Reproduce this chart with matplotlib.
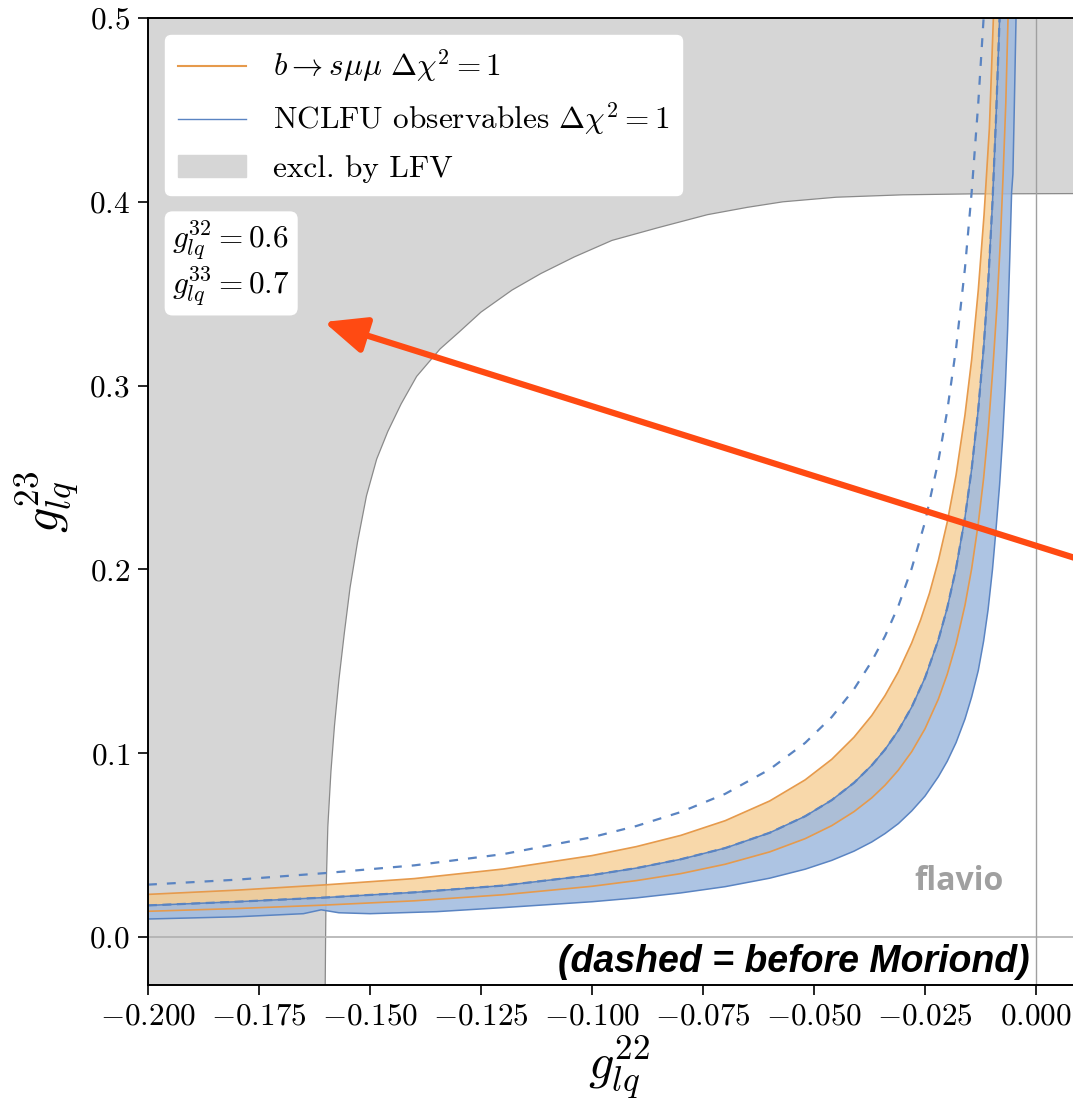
import numpy as np
import matplotlib
matplotlib.use("Agg")
import matplotlib.pyplot as plt

plt.rcParams["font.family"] = ["cmr10", "DejaVu Sans"]
plt.rcParams["mathtext.fontset"] = "cm"
plt.rcParams["axes.formatter.use_mathtext"] = True

# b -> s mu mu, Delta chi^2 = 1 contour (upper / lower edge)
bsmm_up_x = [-0.200, -0.180, -0.160, -0.140, -0.120, -0.100, -0.090, -0.080, -0.070, -0.060,
             -0.052, -0.046, -0.041, -0.037, -0.034, -0.031, -0.028, -0.026, -0.024, -0.022,
             -0.020, -0.018, -0.016, -0.0145, -0.0130, -0.0117, -0.0105, -0.0096]
bsmm_up_y = [0.0232, 0.0255, 0.0284, 0.0318, 0.0370, 0.0443, 0.0492, 0.0553, 0.0633, 0.0740,
             0.0855, 0.0967, 0.1087, 0.1205, 0.1314, 0.1443, 0.1600, 0.1725, 0.1870, 0.2047,
             0.2256, 0.2514, 0.2840, 0.3140, 0.3520, 0.3930, 0.4400, 0.5000]
bsmm_lo_x = [-0.200, -0.180, -0.160, -0.140, -0.120, -0.100, -0.090, -0.080, -0.070, -0.060,
             -0.052, -0.046, -0.041, -0.037, -0.034, -0.031, -0.028, -0.025, -0.022, -0.020,
             -0.018, -0.016, -0.0145, -0.0130, -0.0118, -0.0107, -0.0097, -0.0088, -0.0080,
             -0.0074, -0.0068, -0.0063]
bsmm_lo_y = [0.0140, 0.0155, 0.0174, 0.0197, 0.0230, 0.0276, 0.0307, 0.0345, 0.0396, 0.0463,
             0.0535, 0.0606, 0.0682, 0.0757, 0.0826, 0.0908, 0.1008, 0.1133, 0.1294, 0.1429,
             0.1595, 0.1805, 0.2003, 0.2250, 0.2496, 0.2776, 0.3100, 0.3430, 0.3800,
             0.4150, 0.4540, 0.5000]

# NCLFU observables, Delta chi^2 = 1 contour
nclfu_up_x = [-0.200, -0.180, -0.160, -0.140, -0.120, -0.100, -0.090, -0.080, -0.070, -0.060,
              -0.052, -0.046, -0.041, -0.037, -0.034, -0.031, -0.028, -0.025, -0.022, -0.020,
              -0.018, -0.016, -0.0145, -0.0130, -0.0118, -0.0107, -0.0098, -0.0090, -0.0082]
nclfu_up_y = [0.0172, 0.0192, 0.0215, 0.0243, 0.0280, 0.0337, 0.0375, 0.0423, 0.0484, 0.0567,
              0.0657, 0.0745, 0.0839, 0.0934, 0.1020, 0.1124, 0.1251, 0.1410, 0.1616, 0.1790,
              0.2007, 0.2282, 0.2545, 0.2873, 0.3205, 0.3590, 0.4000, 0.4460, 0.5000]
nclfu_lo_x = [-0.200, -0.180, -0.165, -0.161, -0.157, -0.150, -0.135, -0.120, -0.100, -0.090,
              -0.080, -0.070, -0.060, -0.052, -0.046, -0.041, -0.037, -0.034, -0.031, -0.028,
              -0.025, -0.022, -0.020, -0.018, -0.016, -0.0145, -0.0130, -0.0118, -0.0108,
              -0.0098, -0.0090, -0.0082, -0.0075, -0.0069, -0.0064, -0.0059, -0.0055,
              -0.0052, -0.0049, -0.0045]
nclfu_lo_y = [0.0098, 0.0110, 0.0127, 0.0148, 0.0132, 0.0127, 0.0138, 0.0160, 0.0192, 0.0213,
              0.0240, 0.0274, 0.0320, 0.0369, 0.0417, 0.0467, 0.0517, 0.0563, 0.0617, 0.0686,
              0.0767, 0.0872, 0.0956, 0.1058, 0.1186, 0.1306, 0.1450, 0.1610, 0.1780,
              0.2000, 0.2220, 0.2460, 0.2720, 0.3000, 0.3300, 0.3700, 0.4050,
              0.4150, 0.4500, 0.5000]

# NCLFU contour before Moriond (dashed)
old_x = [-0.200, -0.180, -0.160, -0.140, -0.120, -0.100, -0.090, -0.080, -0.070, -0.060,
         -0.052, -0.046, -0.041, -0.037, -0.034, -0.031, -0.028, -0.025, -0.022, -0.020,
         -0.018, -0.016, -0.0145, -0.0130, -0.0118]
old_y = [0.0285, 0.0312, 0.0348, 0.0390, 0.0451, 0.0543, 0.0604, 0.0680, 0.0779, 0.0912,
         0.1056, 0.1197, 0.1348, 0.1500, 0.1637, 0.1801, 0.2005, 0.2258, 0.2589, 0.2862,
         0.3204, 0.3639, 0.4050, 0.4539, 0.5000]

# boundary of the LFV-excluded region
lfv_x = [-0.1601, -0.1600, -0.1599, -0.1595, -0.1588, -0.1580, -0.1570, -0.1558, -0.1545,
         -0.1528, -0.1508, -0.1485, -0.1460, -0.1430, -0.1395, -0.1342, -0.1300, -0.1250,
         -0.1180, -0.1115, -0.1040, -0.0955, -0.0850, -0.0740, -0.0650, -0.0570, -0.0450,
         -0.0300, -0.0150, 0.0130]
lfv_y = [-0.030, 0.000, 0.024, 0.060, 0.090, 0.115, 0.140, 0.165, 0.190,
         0.215, 0.240, 0.260, 0.275, 0.290, 0.305, 0.320, 0.329, 0.340,
         0.352, 0.361, 0.370, 0.379, 0.386, 0.393, 0.397, 0.400, 0.4025,
         0.4038, 0.4043, 0.4045]

xticks = [-0.200, -0.175, -0.150, -0.125, -0.100, -0.075, -0.050, -0.025, 0.000]
xtick_labels = ["$-0.200$", "$-0.175$", "$-0.150$", "$-0.125$", "$-0.100$",
                "$-0.075$", "$-0.050$", "$-0.025$", "$0.000$"]
yticks = [0.0, 0.1, 0.2, 0.3, 0.4, 0.5]
ytick_labels = ["$0.0$", "$0.1$", "$0.2$", "$0.3$", "$0.4$", "$0.5$"]

c_orange = "#e69a4c"
c_blue = "#5a84c2"

fig = plt.figure(figsize=(10.73, 11.07), dpi=100)
ax = fig.add_axes([148 / 1073, 122 / 1107, 942 / 1073, 967 / 1107])
ax.set_xlim(-0.2, 0.01216)
ax.set_ylim(-0.0261, 0.5)

# LFV exclusion: everything left of / above the boundary
ex_x = [-0.21, -0.21] + lfv_x + [0.02, 0.02]
ex_y = [0.52, -0.03] + lfv_y + [0.4045, 0.52]
ax.fill(ex_x, ex_y, color="#d6d6d6", lw=0, zorder=1)
ax.plot(lfv_x, lfv_y, color="#8a8a8a", lw=0.9, zorder=1.5)

ax.axhline(0, color="#b0b0b0", lw=1.2, zorder=1.6)
ax.axvline(0, color="#a0a0a0", lw=1.0, zorder=1.6)

# filled Delta chi^2 = 1 regions
ax.fill(np.concatenate([bsmm_up_x, bsmm_lo_x[::-1]]),
        np.concatenate([bsmm_up_y, bsmm_lo_y[::-1]]),
        color="#f6c887", alpha=0.7, lw=0, zorder=2)
ax.fill(np.concatenate([nclfu_up_x, nclfu_lo_x[::-1]]),
        np.concatenate([nclfu_up_y, nclfu_lo_y[::-1]]),
        color="#9fbadf", alpha=0.85, lw=0, zorder=3)

ax.plot(bsmm_up_x, bsmm_up_y, color=c_orange, lw=1.2, zorder=4)
ax.plot(bsmm_lo_x, bsmm_lo_y, color=c_orange, lw=1.2, zorder=4)
ax.plot(nclfu_up_x, nclfu_up_y, color=c_blue, lw=1.1, zorder=4)
ax.plot(nclfu_lo_x, nclfu_lo_y, color=c_blue, lw=1.1, zorder=4)
ax.plot(nclfu_up_x, nclfu_up_y, color=c_blue, lw=1.6, ls=(0, (4, 2.5)), zorder=4)
ax.plot(old_x, old_y, color=c_blue, lw=1.6, ls=(0, (4, 4.5)), zorder=4)

# legend
h1, = ax.plot([], [], color=c_orange, lw=1.5)
h2, = ax.plot([], [], color=c_blue, lw=1.0)
h3 = plt.Rectangle((0, 0), 1, 1, color="#d6d6d6")
leg = ax.legend([h1, h2, h3],
                [r"$b \to s\mu\mu\ \Delta\chi^2 = 1$",
                 r"NCLFU observables $\Delta\chi^2 = 1$",
                 "excl. by LFV"],
                loc="upper left", fontsize=22.5, handlelength=2.2, handletextpad=0.85,
                labelspacing=0.52, borderaxespad=0.55, fancybox=True, framealpha=1.0,
                edgecolor="white")
leg.set_zorder(10)

ax.text(0.026, 0.792, "$g_{lq}^{32} = 0.6$\n$g_{lq}^{33} = 0.7$", transform=ax.transAxes,
        fontsize=22.5, va="top", ha="left", linespacing=1.08, zorder=10,
        bbox=dict(boxstyle="round,pad=0.25", fc="white", ec="none"))

ax.text(-0.0173, 0.030, "flavio", fontsize=23, fontweight="bold", color="#a0a0a0",
        family="Open Sans", ha="center", va="center", zorder=5)
ax.text(-0.0014, -0.019, "(dashed = before Moriond)", fontsize=27, fontweight="bold",
        style="italic", family="Liberation Sans", ha="right", va="baseline", zorder=11)

ax.set_xticks(xticks)
ax.set_xticklabels(xtick_labels)
ax.set_yticks(yticks)
ax.set_yticklabels(ytick_labels)
ax.tick_params(direction="out", length=7, width=1.2, labelsize=22.5, pad=6)
for s in ax.spines.values():
    s.set_linewidth(1.4)
    s.set_zorder(12)

ax.set_xlabel("$g_{lq}^{22}$", fontsize=36, labelpad=2)
ax.set_ylabel("$g_{lq}^{23}$", fontsize=36, labelpad=6)

# arrow pointing at the coupling box
ax.annotate("", xy=(324, 1107 - 322), xycoords="figure pixels",
            xytext=(1110, 1107 - 569), textcoords="figure pixels",
            arrowprops=dict(arrowstyle="-|>,head_length=0.85,head_width=0.37",
                            color="#ff4a12", lw=4.5, mutation_scale=30, shrinkA=0, shrinkB=0),
            annotation_clip=False, zorder=20)

fig.savefig("out.png", dpi=100)
